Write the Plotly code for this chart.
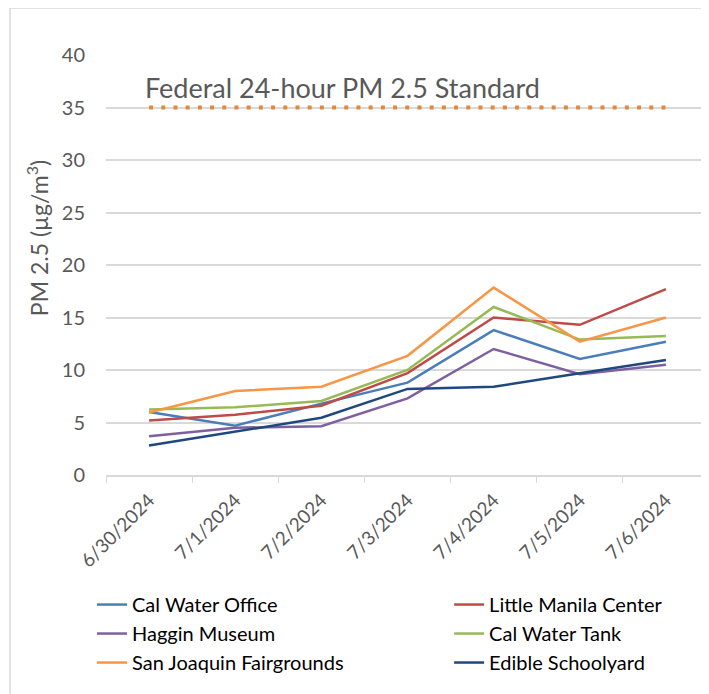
import plotly.graph_objects as go

dates = ["6/30/2024", "7/1/2024", "7/2/2024", "7/3/2024", "7/4/2024", "7/5/2024", "7/6/2024"]

cal_water_office = [6.0, 4.7, 6.8, 8.8, 13.8, 11.05, 12.7]
little_manila = [5.2, 5.75, 6.6, 9.7, 15.0, 14.3, 17.7]
haggin_museum = [3.7, 4.5, 4.65, 7.3, 12.0, 9.6, 10.5]
cal_water_tank = [6.25, 6.45, 7.05, 10.0, 16.0, 12.9, 13.25]
fairgrounds = [5.95, 8.0, 8.4, 11.35, 17.85, 12.7, 15.0]
edible_schoolyard = [2.8, 4.1, 5.45, 8.2, 8.4, 9.7, 10.95]

standard_value = 35
standard_label = "Federal 24-hour PM 2.5 Standard"

# (name, values, colour, legend column)
series = [
    ("Cal Water Office", cal_water_office, "#4A7EBB", "legend"),
    ("Little Manila Center", little_manila, "#BE4B48", "legend2"),
    ("Haggin Museum", haggin_museum, "#7D60A0", "legend"),
    ("Cal Water Tank", cal_water_tank, "#98B954", "legend2"),
    ("San Joaquin Fairgrounds", fairgrounds, "#F79646", "legend"),
    ("Edible Schoolyard", edible_schoolyard, "#1F497D", "legend2"),
]

FONT = "Lato"
GREY = "#595959"

fig = go.Figure()

fig.add_trace(go.Scatter(
    x=dates, y=[standard_value] * len(dates), mode="lines",
    line=dict(color="#E3873A", width=4, dash="4px,8.2px"),
    showlegend=False, hoverinfo="skip",
))

for name, vals, color, leg in series:
    fig.add_trace(go.Scatter(
        x=dates, y=vals, mode="lines", name=name, legend=leg,
        line=dict(color=color, width=2.5),
    ))

fig.add_annotation(
    x=dates[0], y=standard_value, xref="x", yref="y",
    text=standard_label, showarrow=False,
    xanchor="left", yanchor="bottom", xshift=-6, yshift=1,
    font=dict(family=FONT, size=27, color=GREY),
)

fig.add_annotation(
    x=-0.1144, y=0.564, xref="paper", yref="paper",
    text="PM 2.5 (µg/m<sup>3</sup>)", showarrow=False, textangle=-90,
    xanchor="center", yanchor="middle",
    font=dict(family=FONT, size=23, color=GREY),
)

fig.add_shape(
    type="rect", xref="paper", yref="paper",
    x0=-0.1592, x1=1.2, y0=-0.6, y1=1.112,
    line=dict(color="#D9D9D9", width=1.5), layer="below",
)

legend_style = dict(
    orientation="v", yanchor="top", xanchor="left", y=-0.262,
    font=dict(family=FONT, size=20, color="#000000"),
    tracegroupgap=0, bgcolor="rgba(0,0,0,0)",
)

fig.update_layout(
    width=709, height=694,
    margin=dict(l=98, r=8, t=47, b=227),
    paper_bgcolor="white", plot_bgcolor="white",
    font=dict(family=FONT, color=GREY),
    xaxis=dict(
        type="category", range=[-0.5, 6.5],
        tickangle=-45, tickfont=dict(size=19, color=GREY),
        showgrid=False, ticks="outside", tickson="boundaries",
        ticklen=6, tickcolor="#D9D9D9", showline=True,
        linecolor="#D9D9D9", linewidth=1.5, ticklabelstandoff=5,
    ),
    yaxis=dict(
        range=[0, 40], dtick=5, tickfont=dict(size=20, color=GREY),
        showgrid=True, gridcolor="#D9D9D9", gridwidth=1.5,
        zeroline=False, ticklabelstandoff=20,
    ),
    legend=dict(x=-0.0232, **legend_style),
    legend2=dict(x=0.569, **legend_style),
)

fig.write_html("out.html")
